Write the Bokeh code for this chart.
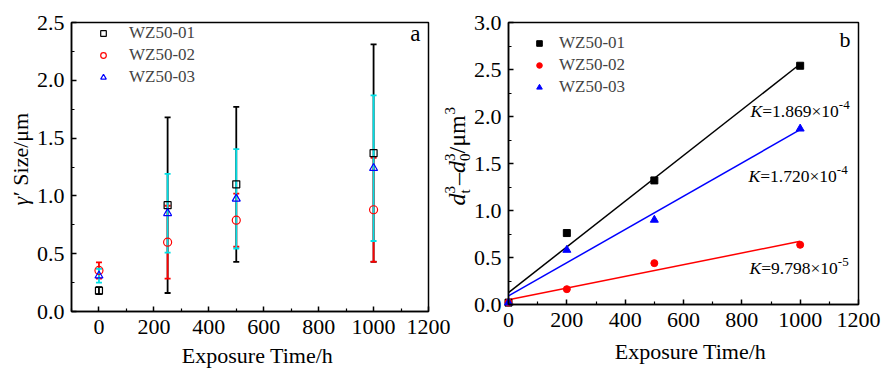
import numpy as np
from bokeh.plotting import figure
from bokeh.models import (ColumnDataSource, Whisker, TeeHead, Label, Legend, LegendItem,
                          Range1d, FixedTicker, PrintfTickFormatter, LinearAxis)
from bokeh.embed import file_html
from bokeh.resources import INLINE

FONT = "Liberation Serif"

# ---------------- data: panel a ----------------
series = ["WZ50-01", "WZ50-02", "WZ50-03"]
time_a = [0, 250, 500, 1000]
size_01 = [0.18, 0.92, 1.10, 1.37]
err_01 = [0.03, 0.76, 0.67, 0.94]
size_02 = [0.355, 0.60, 0.79, 0.88]
err_02 = [0.07, 0.315, 0.23, 0.45]
size_03 = [0.31, 0.85, 0.975, 1.24]
err_03 = [0.06, 0.34, 0.43, 0.63]

# ---------------- data: panel b ----------------
time_b = [0, 200, 500, 1000]
cube_01 = [0.02, 0.76, 1.32, 2.54]
cube_02 = [0.02, 0.163, 0.44, 0.635]
cube_03 = [0.02, 0.58, 0.90, 1.87]
k_mant = ["1.869×10", "1.720×10", "9.798×10"]
k_exp = ["-4", "-4", "-5"]

x_ticks = [0, 200, 400, 600, 800, 1000, 1200]
xa_minor = [-100, 100, 300, 500, 700, 900, 1100]
xb_minor = [100, 300, 500, 700, 900, 1100]
ya_ticks = [0.0, 0.5, 1.0, 1.5, 2.0, 2.5]
ya_minor = [0.25, 0.75, 1.25, 1.75, 2.25]
yb_ticks = [0.0, 0.5, 1.0, 1.5, 2.0, 2.5, 3.0]
yb_minor = [0.25, 0.75, 1.25, 1.75, 2.25, 2.75]

xa_lim, ya_lim = (-100, 1200), (0, 2.5)
xb_lim, yb_lim = (0, 1200), (0, 3.0)

BLACK, RED, BLUE, CYAN = "#000000", "#ff0000", "#0000ff", "#00e0e6"

# ---------------- layout geometry (page pixels) ----------------
W, H = 883, 369
A_L, A_R, A_T, A_B = 71, 428, 22, 311
B_L, B_R, B_T, B_B = 508, 858, 22, 304


def xmap(lim, p0, p1):
    return lambda px: lim[0] + (px - p0) * (lim[1] - lim[0]) / (p1 - p0)


def ymap(lim, pt, pb):
    return lambda py: lim[0] + (pb - py) * (lim[1] - lim[0]) / (pb - pt)


lx, ly = xmap(xa_lim, A_L, A_R), ymap(ya_lim, A_T, A_B)
rx, ry = xmap(xb_lim, B_L, B_R), ymap(yb_lim, B_T, B_B)

p = figure(width=W, height=H,
           x_range=Range1d(lx(0), lx(W)), y_range=Range1d(ly(H), ly(0)),
           output_backend="svg", toolbar_location=None, min_border=0)
p.extra_x_ranges = {"xb": Range1d(rx(0), rx(W))}
p.extra_y_ranges = {"yb": Range1d(ry(H), ry(0))}
p.grid.visible = False
p.outline_line_color = None
p.background_fill_color = "white"
p.border_fill_color = "white"

xa_axis, ya_axis = p.xaxis[0], p.yaxis[0]
xb_axis = LinearAxis(x_range_name="xb", y_range_name="yb")
yb_axis = LinearAxis(x_range_name="xb", y_range_name="yb")
p.add_layout(xb_axis, "below")
p.add_layout(yb_axis, "left")

xa_axis.fixed_location = ya_lim[0]
xa_axis.bounds = xa_lim
xa_axis.ticker = FixedTicker(ticks=x_ticks, minor_ticks=xa_minor)
ya_axis.fixed_location = xa_lim[0]
ya_axis.bounds = ya_lim
ya_axis.ticker = FixedTicker(ticks=ya_ticks, minor_ticks=ya_minor)
xb_axis.fixed_location = yb_lim[0]
xb_axis.bounds = xb_lim
xb_axis.ticker = FixedTicker(ticks=x_ticks, minor_ticks=xb_minor)
yb_axis.fixed_location = xb_lim[0]
yb_axis.bounds = yb_lim
yb_axis.ticker = FixedTicker(ticks=yb_ticks, minor_ticks=yb_minor)

for ax in (xa_axis, ya_axis, xb_axis, yb_axis):
    ax.major_tick_in = 5
    ax.major_tick_out = 0
    ax.minor_tick_in = 3
    ax.minor_tick_out = 0
    ax.axis_line_width = 1.5
    ax.major_tick_line_width = 1.5
    ax.minor_tick_line_width = 1.2
    ax.major_label_text_font = FONT
    ax.major_label_text_font_size = "22px"
    ax.major_label_text_color = "black"
for ax in (ya_axis, yb_axis):
    ax.formatter = PrintfTickFormatter(format="%.1f")
    ax.major_label_standoff = 7
for ax in (xa_axis, xb_axis):
    ax.major_label_standoff = 8

# frame boxes
p.quad(left=xa_lim[0], right=xa_lim[1], bottom=ya_lim[0], top=ya_lim[1],
       fill_color=None, line_color="black", line_width=1.5)
p.quad(left=xb_lim[0], right=xb_lim[1], bottom=yb_lim[0], top=yb_lim[1],
       fill_color=None, line_color="black", line_width=1.5, x_range_name="xb", y_range_name="yb")

# vertical offset between requested anchor and drawn baseline (fraction of font size)
SHIFT = 0.337


def lab(px, py, text, fs, italic=False, align="left", rot=False, b=False):
    """Place a text with its alphabetic baseline at page pixel (px, py)."""
    if rot:
        px -= SHIFT * fs
    else:
        py -= SHIFT * fs
    if b:
        x, y, kw = rx(px), ry(py), dict(x_range_name="xb", y_range_name="yb")
    else:
        x, y, kw = lx(px), ly(py), {}
    p.add_layout(Label(x=x, y=y, text=text, text_font=FONT, text_font_size=f"{fs}px",
                       text_font_style="italic" if italic else "normal",
                       text_align=align, text_baseline="alphabetic",
                       text_color="black", angle=np.pi / 2 if rot else 0.0, **kw))


# ================= panel a =================
for vals, errs, col in ((size_01, err_01, BLACK), (size_02, err_02, RED), (size_03, err_03, CYAN)):
    src = ColumnDataSource(dict(x=time_a,
                                lo=[v - e for v, e in zip(vals, errs)],
                                hi=[v + e for v, e in zip(vals, errs)]))
    p.add_layout(Whisker(source=src, base="x", lower="lo", upper="hi",
                         line_color=col, line_width=1.8,
                         lower_head=TeeHead(size=6, line_color=col, line_width=1.8),
                         upper_head=TeeHead(size=6, line_color=col, line_width=1.8)))

ra1 = p.scatter(time_a, size_01, marker="square", size=7, line_color=BLACK, fill_color=None, line_width=1.2)
ra2 = p.scatter(time_a, size_02, marker="circle", size=8, line_color=RED, fill_color=None, line_width=1.2)
ra3 = p.scatter(time_a, size_03, marker="triangle", size=8, line_color=BLUE, fill_color=None, line_width=1.2)

leg_a = Legend(items=[LegendItem(label=s, renderers=[r]) for s, r in zip(series, (ra1, ra2, ra3))],
               location=(96, H - 88), glyph_width=14, glyph_height=22, label_height=22,
               label_standoff=19, spacing=0, padding=0, margin=0,
               label_text_font=FONT, label_text_font_size="17px",
               border_line_color=None, background_fill_alpha=0)
p.add_layout(leg_a)

lab(420, 41, "a", 23, align="right")
lab(257, 362, "Exposure Time/h", 22, align="center")
lab(27.5, 205, "γ", 22, italic=True, rot=True)
lab(27.5, 195.5, "′ Size/μm", 22, rot=True)

# ================= panel b =================
for vals, col in ((cube_01, BLACK), (cube_02, RED), (cube_03, BLUE)):
    k, b0 = np.polyfit(time_b, vals, 1)
    xs = [time_b[0], time_b[-1]]
    p.line(xs, [k * x + b0 for x in xs], line_color=col, line_width=1.5,
           x_range_name="xb", y_range_name="yb")

rb1 = p.scatter(time_b, cube_01, marker="square", size=7, line_color=BLACK, fill_color=BLACK,
                x_range_name="xb", y_range_name="yb")
rb2 = p.scatter(time_b, cube_02, marker="circle", size=7, line_color=RED, fill_color=RED,
                x_range_name="xb", y_range_name="yb")
rb3 = p.scatter(time_b, cube_03, marker="triangle", size=8, line_color=BLUE, fill_color=BLUE,
                x_range_name="xb", y_range_name="yb")

leg_b = Legend(items=[LegendItem(label=s, renderers=[r]) for s, r in zip(series, (rb1, rb2, rb3))],
               location=(532, H - 98), glyph_width=14, glyph_height=22, label_height=22,
               label_standoff=13, spacing=0, padding=0, margin=0,
               label_text_font=FONT, label_text_font_size="17px",
               border_line_color=None, background_fill_alpha=0)
p.add_layout(leg_b)

lab(850, 46.5, "b", 22, align="right", b=True)
lab(690, 358, "Exposure Time/h", 22, align="center", b=True)

# K annotations
for (kx, ky), mant, ex in zip(((750, 116.5), (748, 181.5), (749, 273)), k_mant, k_exp):
    lab(kx, ky, "K", 17.5, italic=True, b=True)
    lab(kx + 11.7, ky, "=" + mant, 17.5, b=True)
    lab(kx + 11.7 + 76.6, ky - 7.5, ex, 13, b=True)

# y label: d_t^3 – d_0^3 /μm^3 (rotated, reading upward)
base, sub, sup = 465, 470, 455
lab(base, 205, "d", 24, italic=True, rot=True, b=True)
lab(sub, 193, "t", 15, rot=True, b=True)
lab(sup, 193, "3", 15, rot=True, b=True)
lab(base, 184.5, "–", 24, rot=True, b=True)
lab(base, 172.5, "d", 24, italic=True, rot=True, b=True)
lab(sub, 160.5, "0", 15, rot=True, b=True)
lab(sup, 160.5, "3", 15, rot=True, b=True)
lab(base, 153, "/μm", 24, rot=True, b=True)
lab(sup, 114, "3", 15, rot=True, b=True)

open("out.html", "w").write(file_html(p, INLINE))
